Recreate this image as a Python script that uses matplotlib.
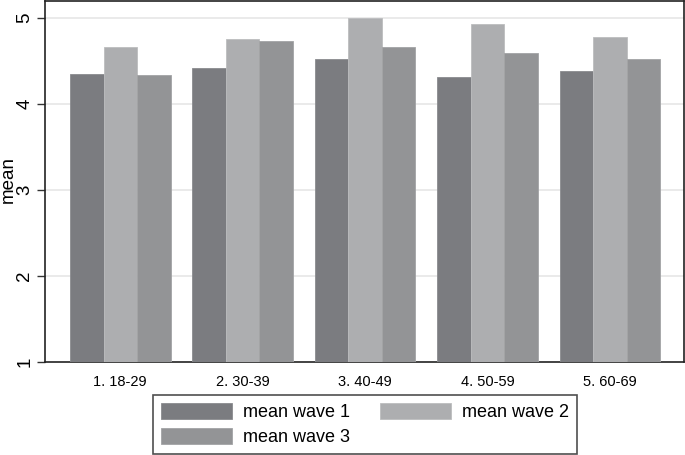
import matplotlib
matplotlib.use("Agg")
import matplotlib.pyplot as plt
import numpy as np

plt.rcParams['font.family'] = ['Liberation Sans', 'DejaVu Sans']

categories = ["1. 18-29", "2. 30-39", "3. 40-49", "4. 50-59", "5. 60-69"]
wave1 = [4.35, 4.42, 4.53, 4.32, 4.39]
wave2 = [4.67, 4.76, 5.00, 4.93, 4.78]
wave3 = [4.34, 4.73, 4.66, 4.60, 4.53]
series_names = ["mean wave 1", "mean wave 2", "mean wave 3"]
colors = ["#7b7c80", "#adaeb0", "#939496"]
edges = ["#8a8b8f", "#bcbdbf", "#a2a3a5"]
yticks = [1, 2, 3, 4, 5]

fig = plt.figure(figsize=(6.85, 4.55), dpi=100)
ax = fig.add_axes([45/685, 93/455, 639/685, 361/455])

x = np.arange(len(categories))
w = 0.274
handles = []
for i, (vals, c, ec, name) in enumerate(zip([wave1, wave2, wave3], colors, edges, series_names)):
    b = ax.bar(x + (i - 1) * w, np.array(vals) - 1, width=w, bottom=1,
               color=c, edgecolor=ec, linewidth=0.6, label=name, zorder=3)
    handles.append(b)

ax.set_xlim(-0.615, 4.605)
ax.set_ylim(1, 5.2)
ax.set_yticks(yticks)
ax.set_yticklabels([str(t) for t in yticks], rotation=90, va='center', fontsize=13.5)
ax.set_xticks(x)
ax.set_xticklabels(categories, fontsize=10.5)
ax.tick_params(axis='x', length=0, pad=9)
ax.tick_params(axis='y', length=6, width=1, color='#333333', pad=2.5)

fig.text(0.0, 1 - 180/455, "mean", rotation=90, ha='left', va='center', fontsize=13.5)

for t in [2, 3, 4, 5]:
    ax.axhline(t, color='#e4e4e4', linewidth=1.1, zorder=1)

for s in ax.spines.values():
    s.set_color('#222222')
    s.set_linewidth(1.2)

order = [0, 2, 1]
leg = fig.legend([handles[k] for k in order], [series_names[k] for k in order],
                 ncol=2, loc='center', bbox_to_anchor=(365/685, 1 - 424.5/455),
                 fontsize=13, frameon=True, fancybox=False,
                 handlelength=3.9, handleheight=1.0, handletextpad=0.6,
                 labelspacing=0.38, columnspacing=1.7, borderpad=0.45,
                 borderaxespad=0)
leg.get_frame().set_edgecolor('#222222')
leg.get_frame().set_linewidth(1.2)

fig.savefig("out.png", dpi=100)
